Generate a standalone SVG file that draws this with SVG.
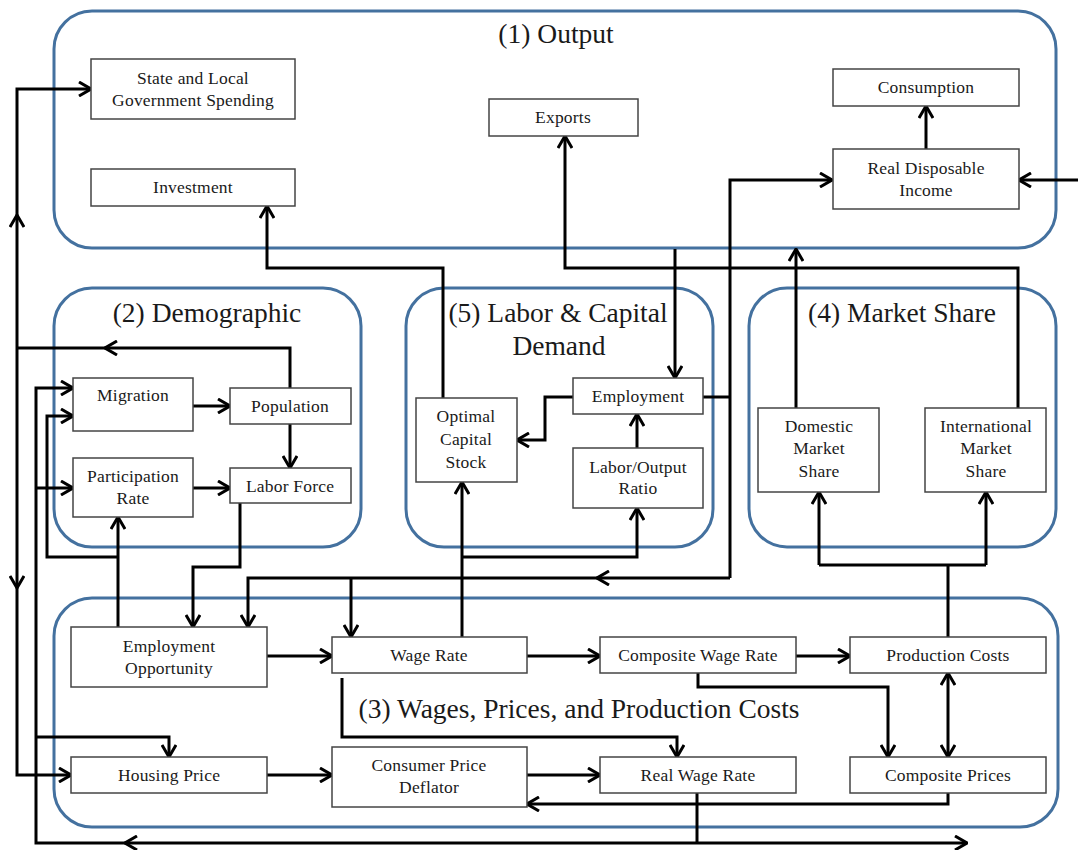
<svg xmlns="http://www.w3.org/2000/svg" width="1078" height="850" viewBox="0 0 1078 850">
<defs>
<marker id="arr" viewBox="0 0 14 16" refX="13" refY="8" markerWidth="14" markerHeight="16" markerUnits="userSpaceOnUse" orient="auto-start-reverse">
<path d="M1,1 L13,8 L1,15" fill="none" stroke="#000" stroke-width="3"/>
</marker>
<style>
.grp{fill:none;stroke:#44719f;stroke-width:3}
.box{fill:#fff;stroke:#444;stroke-width:1.5}
.t{font-family:"Liberation Serif","Times New Roman",serif;font-size:17.5px;letter-spacing:0.2px;fill:#1a1a1a;text-anchor:middle}
.h{font-family:"Liberation Serif","Times New Roman",serif;font-size:27.5px;fill:#1a1a1a;text-anchor:middle}
.c{fill:none;stroke:#000;stroke-width:3}
.a{marker-end:url(#arr)}
</style>
</defs>
<rect width="1078" height="850" fill="#fff"/>
<g id="group-output"><rect class="grp" x="54" y="11" width="1002" height="237" rx="38"/><text class="h" x="556" y="43">(1) Output</text></g>
<g id="group-demographic"><rect class="grp" x="54" y="288" width="307" height="259" rx="38"/><text class="h" x="207" y="322">(2) Demographic</text></g>
<g id="group-labor"><rect class="grp" x="406" y="288" width="307" height="259" rx="38"/><text class="h" x="558" y="322">(5) Labor &amp; Capital</text><text class="h" x="559" y="355">Demand</text></g>
<g id="group-market"><rect class="grp" x="749" y="288" width="307" height="259" rx="38"/><text class="h" x="902" y="322">(4) Market Share</text></g>
<g id="group-wages"><rect class="grp" x="54" y="598" width="1004" height="229" rx="38"/><text class="h" x="579" y="718">(3) Wages, Prices, and Production Costs</text></g>
<g id="connectors">
<path class="c a" d="M17,348 L17,215"/>
<path class="c a" d="M17,215 L17,89 L91,89"/>
<path class="c a" d="M17,348 L17,588"/>
<path class="c a" d="M17,588 L17,775 L71,775"/>
<path class="c a" d="M290,388 L290,348 L105,348"/>
<path class="c" d="M105,348 L17,348"/>
<path class="c" d="M697,793 L697,843"/>
<path class="c a" d="M697,843 L125,843"/>
<path class="c a" d="M125,843 L36,843 L36,388 L73,388"/>
<path class="c a" d="M36,488 L73,488"/>
<path class="c a" d="M36,737 L169,737 L169,757"/>
<path class="c a" d="M697,843 L967,843"/>
<path class="c a" d="M118,627 L118,517"/>
<path class="c a" d="M118,557 L47,557 L47,416 L73,416"/>
<path class="c a" d="M240,503 L240,567 L193,567 L193,627"/>
<path class="c" d="M703,397 L730,397"/>
<path class="c a" d="M730,578 L597,578"/>
<path class="c a" d="M597,578 L248,578 L248,627"/>
<path class="c a" d="M351,578 L351,637"/>
<path class="c a" d="M730,578 L730,180 L832,180"/>
<path class="c a" d="M675,249 L675,378"/>
<path class="c a" d="M796,408 L796,249"/>
<path class="c a" d="M1018,408 L1018,268 L565,268 L565,136"/>
<path class="c a" d="M443,398 L443,268 L267,268 L267,206"/>
<path class="c a" d="M573,397 L545,397 L545,440 L517,440"/>
<path class="c a" d="M637,448 L637,414"/>
<path class="c a" d="M462,637 L462,482"/>
<path class="c a" d="M462,557 L637,557 L637,508"/>
<path class="c" d="M948,637 L948,565 M819,565 L986,565"/>
<path class="c a" d="M819,565 L819,492"/>
<path class="c a" d="M986,565 L986,492"/>
<path class="c a" d="M1078,180 L1019,180"/>
<path class="c a" d="M926,149 L926,106"/>
<path class="c a" d="M193,406 L230,406"/>
<path class="c a" d="M290,424 L290,468"/>
<path class="c a" d="M193,488 L230,488"/>
<path class="c a" d="M267,656 L332,656"/>
<path class="c a" d="M527,656 L600,656"/>
<path class="c a" d="M796,656 L850,656"/>
<path class="c a" d="M698,673 L698,687 L888,687 L888,757"/>
<path class="c a" d="M948,673 L948,757" marker-start="url(#arr)"/>
<path class="c a" d="M948,793 L948,804 L527,804"/>
<path class="c a" d="M267,775 L332,775"/>
<path class="c a" d="M527,775 L600,775"/>
<path class="c a" d="M342,678 L342,737 L677,737 L677,757"/>
</g>
<g id="n-state"><rect class="box" x="91" y="59" width="204" height="60"/><text class="t" x="193" y="84">State and Local</text><text class="t" x="193" y="106">Government Spending</text></g>
<g id="n-investment"><rect class="box" x="91" y="169" width="204" height="37"/><text class="t" x="193" y="193">Investment</text></g>
<g id="n-exports"><rect class="box" x="489" y="99" width="149" height="37"/><text class="t" x="563" y="123">Exports</text></g>
<g id="n-consumption"><rect class="box" x="833" y="69" width="186" height="37"/><text class="t" x="926" y="93">Consumption</text></g>
<g id="n-rdi"><rect class="box" x="833" y="149" width="186" height="60"/><text class="t" x="926" y="174">Real Disposable</text><text class="t" x="926" y="196">Income</text></g>
<g id="n-migration"><rect class="box" x="73" y="378" width="120" height="53"/><text class="t" x="133" y="401">Migration</text></g>
<g id="n-population"><rect class="box" x="230" y="388" width="121" height="36"/><text class="t" x="290" y="412">Population</text></g>
<g id="n-participation"><rect class="box" x="73" y="458" width="120" height="59"/><text class="t" x="133" y="482">Participation</text><text class="t" x="133" y="504">Rate</text></g>
<g id="n-laborforce"><rect class="box" x="230" y="468" width="121" height="35"/><text class="t" x="290" y="492">Labor Force</text></g>
<g id="n-ocs"><rect class="box" x="416" y="398" width="101" height="84"/><text class="t" x="466" y="422">Optimal</text><text class="t" x="466" y="445">Capital</text><text class="t" x="466" y="468">Stock</text></g>
<g id="n-employment"><rect class="box" x="573" y="378" width="130" height="36"/><text class="t" x="638" y="402">Employment</text></g>
<g id="n-loratio"><rect class="box" x="573" y="448" width="130" height="60"/><text class="t" x="638" y="473">Labor/Output</text><text class="t" x="638" y="494">Ratio</text></g>
<g id="n-domestic"><rect class="box" x="758" y="408" width="121" height="84"/><text class="t" x="819" y="432">Domestic</text><text class="t" x="819" y="454">Market</text><text class="t" x="819" y="477">Share</text></g>
<g id="n-international"><rect class="box" x="925" y="408" width="121" height="84"/><text class="t" x="986" y="432">International</text><text class="t" x="986" y="454">Market</text><text class="t" x="986" y="477">Share</text></g>
<g id="n-empopp"><rect class="box" x="71" y="627" width="196" height="60"/><text class="t" x="169" y="652">Employment</text><text class="t" x="169" y="674">Opportunity</text></g>
<g id="n-wagerate"><rect class="box" x="332" y="637" width="195" height="36"/><text class="t" x="429" y="661">Wage Rate</text></g>
<g id="n-cwr"><rect class="box" x="600" y="637" width="196" height="36"/><text class="t" x="698" y="661">Composite Wage Rate</text></g>
<g id="n-prodcosts"><rect class="box" x="850" y="637" width="196" height="36"/><text class="t" x="948" y="661">Production Costs</text></g>
<g id="n-housing"><rect class="box" x="71" y="757" width="196" height="36"/><text class="t" x="169" y="781">Housing Price</text></g>
<g id="n-cpd"><rect class="box" x="332" y="747" width="195" height="60"/><text class="t" x="429" y="771">Consumer Price</text><text class="t" x="429" y="793">Deflator</text></g>
<g id="n-rwr"><rect class="box" x="600" y="757" width="196" height="36"/><text class="t" x="698" y="781">Real Wage Rate</text></g>
<g id="n-compprices"><rect class="box" x="850" y="757" width="196" height="36"/><text class="t" x="948" y="781">Composite Prices</text></g>
</svg>
